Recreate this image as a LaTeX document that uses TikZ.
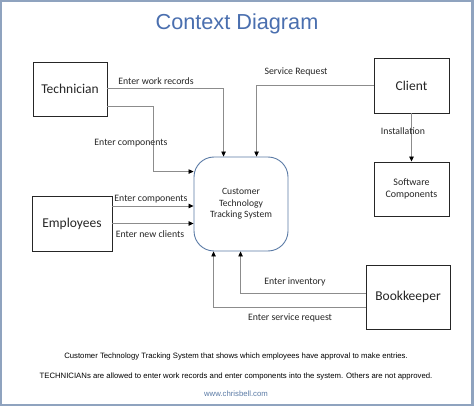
\documentclass[tikz,border=0pt]{standalone}
\usepackage{fontspec}
\setmainfont{Carlito}
\newfontfamily\arialfont{Liberation Sans}
\usetikzlibrary{arrows.meta}
\definecolor{frame}{HTML}{8FA3BF}
\definecolor{titleblue}{HTML}{4A6FAF}
\definecolor{procblue}{HTML}{5B7BA6}
\definecolor{linegray}{HTML}{8C8C8C}
\definecolor{txt}{HTML}{262626}
\begin{document}
\begin{tikzpicture}[x=1pt,y=-1pt,
  entity/.style={draw=black!85,line width=0.9pt,inner sep=0pt,font=\fontsize{13.5}{15}\selectfont,text=txt},
  flow/.style={draw=linegray,line width=0.8pt,-{Triangle[black,length=5pt,width=4.5pt]}},
  lbl/.style={font=\fontsize{9.8}{11}\selectfont,text=txt,inner sep=0pt},
  foot/.style={font=\arialfont\fontsize{7.75}{9}\selectfont,text=black,inner sep=0pt}]
\useasboundingbox (0,0) rectangle (474,406);
\fill[frame] (0,0) rectangle (474,406);
\fill[white] (2,2) rectangle (470.5,403.5);
\node[font=\arialfont\fontsize{21.7}{24}\selectfont,text=titleblue] (title) at (237,24) {Context Diagram};
% entities
\node[entity,minimum width=74pt,minimum height=54pt] (tech) at (70,89) {Technician};
\node[entity,minimum width=75pt,minimum height=55pt] (client) at (411.5,85.5) {Client};
\node[entity,minimum width=75pt,minimum height=54pt,align=center,font=\fontsize{10}{12.3}\selectfont] (soft) at (411.5,189) {Software\\Components};
\node[entity,minimum width=80pt,minimum height=55pt] (emp) at (72,223.5) {Employees};
\node[entity,minimum width=84pt,minimum height=64pt] (book) at (408,297) {Bookkeeper};
\node[draw=procblue,line width=0.9pt,rounded corners=20pt,minimum width=94pt,minimum height=94pt,align=center,font=\fontsize{9.6}{11.5}\selectfont,text=txt,inner sep=0pt] (proc) at (241,204) {Customer\\Technology\\Tracking System};
% connectors
\coordinate (t1) at ([yshift=1pt]tech.east);
\coordinate (t2) at ([yshift=-17pt]tech.east);
\coordinate (e1) at ([yshift=17.5pt]emp.east);
\coordinate (b1) at ([yshift=4pt]book.west);
\coordinate (b2) at ([yshift=-10pt]book.west);
\draw[flow] (t1) -| ([xshift=30pt]proc.north west);
\draw[flow] (t2) -- ++(46pt,0) |- ([yshift=-15pt]proc.north west);
\draw[flow] (client.west) -| ([xshift=63pt]proc.north west);
\draw[flow] (client.south) -- (soft.north);
\draw[flow] (e1) -- (e1 -| proc.west);
\draw[flow] (emp.east) -- (emp.east -| proc.west);
\draw[flow] (b1) -| ([xshift=47pt]proc.south west);
\draw[flow] (b2) -| ([xshift=20pt]proc.south west);
% labels
\node[lbl] (l1) at (156,81) {Enter work records};
\node[lbl] (l2) at (131,143) {Enter components};
\node[lbl] (l3) at (296,72) {Service Request};
\node[lbl] (l4) at (403,131) {Installation};
\node[lbl] (l5) at (151,199) {Enter components};
\node[lbl] (l6) at (150,234) {Enter new clients};
\node[lbl] (l7) at (295,282) {Enter inventory};
\node[lbl] (l8) at (290,318) {Enter service request};
% footer
\node[foot] (f1) at (236,356) {Customer Technology Tracking System that shows which employees have approval to make entries.};
\node[foot] (f2) at (236,376) {TECHNICIANs are allowed to enter work records and enter components into the system. Others are not approved.};
\node[foot,text=procblue] (f3) at (236,394) {www.chrisbell.com};
\end{tikzpicture}
\end{document}
